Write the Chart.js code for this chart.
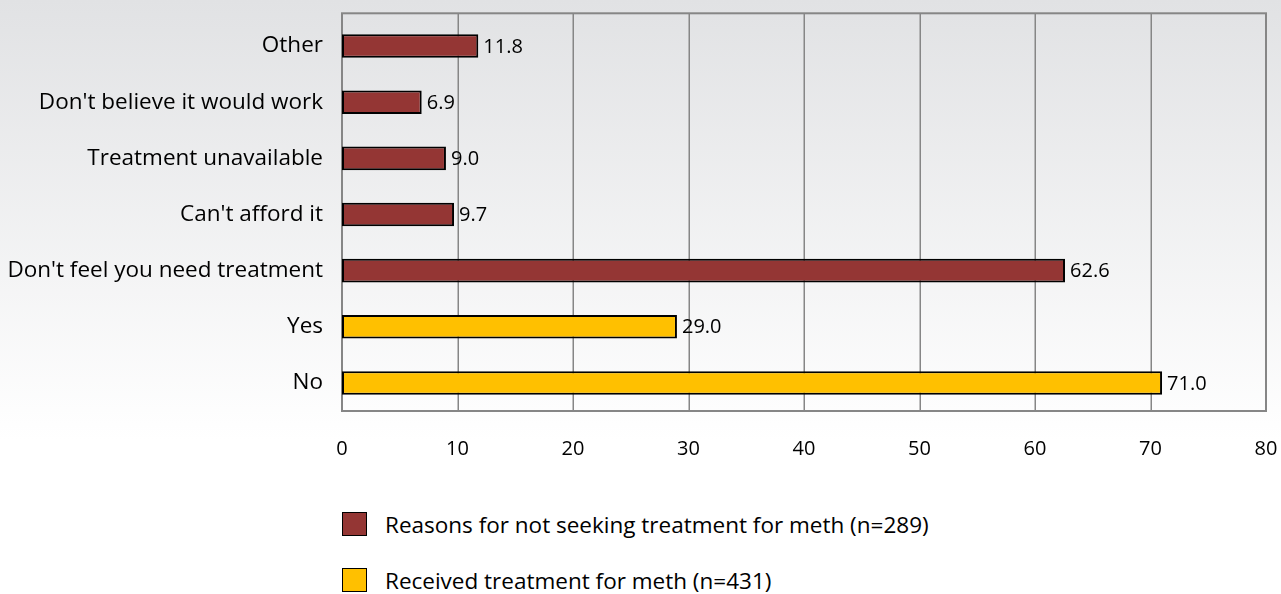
<!DOCTYPE html>
<html>
<head>
<meta charset="utf-8">
<script src="https://cdn.jsdelivr.net/npm/chart.js@4.4.0/dist/chart.umd.min.js"></script>
<style>
  html, body { margin: 0; padding: 0; }
  body {
    width: 1281px; height: 594px; position: relative; overflow: hidden;
    background: linear-gradient(to bottom, #e1e2e4 0px, #ffffff 440px, #ffffff 594px);
    font-family: "Open Sans", sans-serif;
  }
  #wrap { position: absolute; left: 0; top: 0; width: 1281px; height: 470px; }
  #legend { position: absolute; left: 342px; top: 512px; }
  .item { display: flex; align-items: center; height: 24px; margin-bottom: 32px; }
  .box { width: 23px; height: 22px; border: 1px solid #000; margin-right: 18px; }
  .item span { font-size: 22.5px; color: #000; }
</style>
</head>
<body>
<div id="wrap"><canvas id="chart"></canvas></div>
<div id="legend"></div>
<script>
const categories = [
  "Other",
  "Don't believe it would work",
  "Treatment unavailable",
  "Can't afford it",
  "Don't feel you need treatment",
  "Yes",
  "No",
];
const reasonsValues = [11.8, 6.9, 9.0, 9.7, 62.6, null, null];
const receivedValues = [null, null, null, null, null, 29.0, 71.0];
const seriesLabels = [
  "Reasons for not seeking treatment for meth (n=289)",
  "Received treatment for meth (n=431)",
];
const seriesColors = ["#943634", "#FFC000"];
const xMax = 80;
const xStep = 10;

const WORD_FONT = { family: "'Open Sans', sans-serif", size: 22.5 };
const NUM_FONT = { family: "'Open Sans', sans-serif", size: 20 };

// value labels just right of each bar
const valueLabels = {
  id: "valueLabels",
  afterDatasetsDraw(chart) {
    const ctx = chart.ctx;
    ctx.save();
    ctx.font = "20px 'Open Sans', sans-serif";
    ctx.fillStyle = "#000";
    ctx.textAlign = "left";
    ctx.textBaseline = "middle";
    chart.data.datasets.forEach((ds, i) => {
      chart.getDatasetMeta(i).data.forEach((bar, j) => {
        const v = ds.data[j];
        if (v == null) return;
        ctx.fillText(v.toFixed(1), bar.x + 5, bar.y + 1);
      });
    });
    ctx.restore();
  },
};

// grey frame + vertical gridlines; the frame sits a bit above the category area
const plotFrame = {
  id: "plotFrame",
  beforeDatasetsDraw(chart) {
    const a = chart.chartArea;
    const x = chart.scales.x;
    const top = a.top - 4.7;
    const ctx = chart.ctx;
    ctx.save();
    ctx.strokeStyle = "#868686";
    ctx.lineWidth = 1.5;
    for (let v = xStep; v < xMax; v += xStep) {
      const px = Math.round(x.getPixelForValue(v)) + 0.25;
      ctx.beginPath();
      ctx.moveTo(px, top);
      ctx.lineTo(px, a.bottom);
      ctx.stroke();
    }
    ctx.lineWidth = 2;
    ctx.strokeRect(a.left, top, a.right - a.left, a.bottom - top);
    ctx.restore();
  },
};

new Chart(document.getElementById("chart"), {
  type: "bar",
  data: {
    labels: categories,
    datasets: [
      {
        label: seriesLabels[0],
        data: reasonsValues,
        backgroundColor: seriesColors[0],
        borderColor: "#000",
        borderWidth: 2,
        borderSkipped: false,
      },
      {
        label: seriesLabels[1],
        data: receivedValues,
        backgroundColor: seriesColors[1],
        borderColor: "#000",
        borderWidth: 2,
        borderSkipped: false,
      },
    ],
  },
  options: {
    indexAxis: "y",
    responsive: true,
    maintainAspectRatio: false,
    animation: false,
    layout: { padding: { top: 18, right: 15, left: 0, bottom: 0 } },
    datasets: { bar: { barPercentage: 0.42, categoryPercentage: 1 } },
    plugins: { legend: { display: false }, tooltip: { enabled: false } },
    scales: {
      x: {
        stacked: true,
        min: 0,
        max: xMax,
        ticks: { stepSize: xStep, padding: 26, color: "#000", font: NUM_FONT },
        grid: { display: false, drawTicks: false },
        border: { display: false },
        afterFit(scale) {
          scale.height = 59;
          scale.paddingLeft = 0;
          scale.paddingRight = 0;
        },
      },
      y: {
        stacked: true,
        ticks: { padding: 19, color: "#000", font: WORD_FONT },
        grid: { display: false, drawTicks: false },
        border: { display: false },
        afterFit(scale) {
          scale.width = 342;
          scale.paddingTop = 0;
          scale.paddingBottom = 0;
        },
      },
    },
  },
  plugins: [plotFrame, valueLabels],
});

// legend, stacked vertically under the chart
const legend = document.getElementById("legend");
seriesLabels.forEach((label, i) => {
  const item = document.createElement("div");
  item.className = "item";
  const box = document.createElement("div");
  box.className = "box";
  box.style.background = seriesColors[i];
  const text = document.createElement("span");
  text.textContent = label;
  item.appendChild(box);
  item.appendChild(text);
  legend.appendChild(item);
});
</script>
</body>
</html>
